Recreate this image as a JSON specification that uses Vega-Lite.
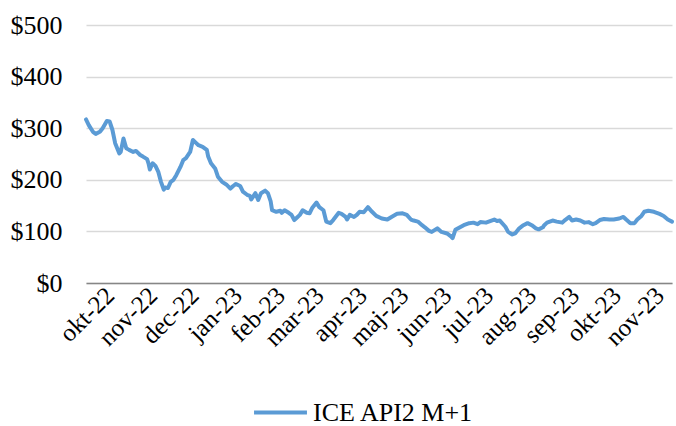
{
  "$schema": "https://vega.github.io/schema/vega-lite/v6.json",
  "autosize": "none",
  "width": 586,
  "height": 258,
  "padding": {"left": 86, "top": 25, "right": 4, "bottom": 143},
  "background": "white",
  "config": {
    "view": {"stroke": null},
    "font": "Liberation Serif"
  },
  "data": {
    "values": [
      {"d":"2022-09-14","v":317},{"d":"2022-09-16","v":306},{"d":"2022-09-19","v":293},{"d":"2022-09-21","v":289},
      {"d":"2022-09-24","v":293},{"d":"2022-09-26","v":300},{"d":"2022-09-29","v":314},{"d":"2022-10-01","v":313},
      {"d":"2022-10-03","v":297},{"d":"2022-10-05","v":271},{"d":"2022-10-08","v":251},{"d":"2022-10-09","v":254},
      {"d":"2022-10-11","v":280},{"d":"2022-10-13","v":261},{"d":"2022-10-15","v":258},{"d":"2022-10-18","v":254},
      {"d":"2022-10-20","v":256},{"d":"2022-10-23","v":248},{"d":"2022-10-25","v":245},{"d":"2022-10-28","v":240},
      {"d":"2022-10-29","v":232},{"d":"2022-10-30","v":220},{"d":"2022-11-01","v":232},{"d":"2022-11-03","v":227},
      {"d":"2022-11-05","v":216},{"d":"2022-11-07","v":196},{"d":"2022-11-09","v":181},{"d":"2022-11-10","v":185},
      {"d":"2022-11-12","v":184},{"d":"2022-11-14","v":196},{"d":"2022-11-16","v":200},{"d":"2022-11-18","v":209},
      {"d":"2022-11-21","v":225},{"d":"2022-11-23","v":238},{"d":"2022-11-25","v":242},{"d":"2022-11-28","v":254},
      {"d":"2022-11-30","v":277},{"d":"2022-12-02","v":272},{"d":"2022-12-04","v":267},{"d":"2022-12-07","v":264},
      {"d":"2022-12-10","v":258},{"d":"2022-12-11","v":245},{"d":"2022-12-13","v":232},{"d":"2022-12-16","v":222},
      {"d":"2022-12-18","v":206},{"d":"2022-12-21","v":196},{"d":"2022-12-24","v":191},{"d":"2022-12-27","v":183},
      {"d":"2022-12-29","v":188},{"d":"2022-12-31","v":192},{"d":"2023-01-03","v":188},{"d":"2023-01-05","v":177},
      {"d":"2023-01-08","v":171},{"d":"2023-01-10","v":169},{"d":"2023-01-11","v":162},{"d":"2023-01-14","v":174},
      {"d":"2023-01-16","v":161},{"d":"2023-01-18","v":174},{"d":"2023-01-21","v":179},{"d":"2023-01-23","v":174},
      {"d":"2023-01-25","v":158},{"d":"2023-01-26","v":141},{"d":"2023-01-29","v":138},{"d":"2023-02-01","v":140},
      {"d":"2023-02-02","v":136},{"d":"2023-02-04","v":141},{"d":"2023-02-07","v":136},{"d":"2023-02-09","v":132},
      {"d":"2023-02-11","v":122},{"d":"2023-02-13","v":127},{"d":"2023-02-15","v":132},{"d":"2023-02-17","v":141},
      {"d":"2023-02-20","v":136},{"d":"2023-02-22","v":135},{"d":"2023-02-24","v":146},{"d":"2023-02-27","v":156},
      {"d":"2023-03-01","v":147},{"d":"2023-03-04","v":141},{"d":"2023-03-06","v":119},{"d":"2023-03-09","v":116},
      {"d":"2023-03-11","v":122},{"d":"2023-03-15","v":136},{"d":"2023-03-17","v":134},{"d":"2023-03-20","v":128},
      {"d":"2023-03-21","v":123},{"d":"2023-03-23","v":132},{"d":"2023-03-26","v":128},{"d":"2023-03-28","v":132},
      {"d":"2023-03-30","v":138},{"d":"2023-04-02","v":137},{"d":"2023-04-05","v":147},{"d":"2023-04-08","v":138},
      {"d":"2023-04-11","v":130},{"d":"2023-04-15","v":125},{"d":"2023-04-19","v":123},{"d":"2023-04-22","v":128},
      {"d":"2023-04-26","v":134},{"d":"2023-04-30","v":135},{"d":"2023-05-03","v":132},{"d":"2023-05-06","v":123},
      {"d":"2023-05-08","v":121},{"d":"2023-05-11","v":119},{"d":"2023-05-14","v":112},{"d":"2023-05-16","v":108},
      {"d":"2023-05-19","v":101},{"d":"2023-05-21","v":99},{"d":"2023-05-25","v":106},{"d":"2023-05-28","v":99},
      {"d":"2023-06-01","v":96},{"d":"2023-06-04","v":90},{"d":"2023-06-05","v":87},{"d":"2023-06-07","v":103},
      {"d":"2023-06-09","v":106},{"d":"2023-06-13","v":112},{"d":"2023-06-17","v":116},{"d":"2023-06-20","v":117},
      {"d":"2023-06-23","v":114},{"d":"2023-06-25","v":118},{"d":"2023-06-29","v":117},{"d":"2023-07-02","v":120},
      {"d":"2023-07-05","v":123},{"d":"2023-07-07","v":120},{"d":"2023-07-09","v":121},{"d":"2023-07-13","v":109},
      {"d":"2023-07-15","v":99},{"d":"2023-07-18","v":94},{"d":"2023-07-20","v":96},{"d":"2023-07-23","v":106},
      {"d":"2023-07-26","v":112},{"d":"2023-07-29","v":116},{"d":"2023-08-01","v":112},{"d":"2023-08-04","v":106},
      {"d":"2023-08-06","v":104},{"d":"2023-08-09","v":108},{"d":"2023-08-10","v":112},{"d":"2023-08-12","v":117},
      {"d":"2023-08-16","v":121},{"d":"2023-08-19","v":119},{"d":"2023-08-23","v":117},{"d":"2023-08-25","v":122},
      {"d":"2023-08-28","v":128},{"d":"2023-08-30","v":121},{"d":"2023-09-02","v":123},{"d":"2023-09-05","v":121},
      {"d":"2023-09-08","v":117},{"d":"2023-09-11","v":118},{"d":"2023-09-14","v":114},{"d":"2023-09-16","v":116},
      {"d":"2023-09-19","v":122},{"d":"2023-09-22","v":124},{"d":"2023-09-26","v":123},{"d":"2023-09-29","v":123},
      {"d":"2023-10-03","v":125},{"d":"2023-10-06","v":128},{"d":"2023-10-08","v":123},{"d":"2023-10-11","v":116},
      {"d":"2023-10-14","v":116},{"d":"2023-10-16","v":123},{"d":"2023-10-19","v":130},{"d":"2023-10-21","v":138},
      {"d":"2023-10-24","v":140},{"d":"2023-10-28","v":138},{"d":"2023-11-01","v":134},{"d":"2023-11-04","v":130},
      {"d":"2023-11-07","v":123},{"d":"2023-11-10","v":119}
    ]
  },
  "mark": {"type": "line", "strokeWidth": 4, "strokeCap": "round", "strokeJoin": "round"},
  "encoding": {
    "x": {
      "field": "d",
      "type": "temporal",
      "scale": {
        "type": "utc",
        "domain": [
          {"year": 2022, "month": 9, "date": 14, "utc": true},
          {"year": 2023, "month": 11, "date": 10, "utc": true}
        ],
        "nice": false
      },
      "axis": {
        "title": null,
        "tickCount": {"interval": "month", "step": 1},
        "labelExpr": "['jan','feb','mar','apr','maj','jun','jul','aug','sep','okt','nov','dec'][utcmonth(datum.value)] + '-' + utcFormat(datum.value, '%y')",
        "labelAngle": -45,
        "labelAlign": "right",
        "labelBaseline": "middle",
        "labelFont": "Liberation Serif",
        "labelFontSize": 25,
        "labelColor": "#000000",
        "labelPadding": 8,
        "labelOverlap": false,
        "labelFlush": false,
        "ticks": false,
        "grid": false,
        "domain": true,
        "domainColor": "#868686",
        "domainWidth": 1.5
      }
    },
    "y": {
      "field": "v",
      "type": "quantitative",
      "scale": {"domain": [0, 500], "nice": false},
      "axis": {
        "title": null,
        "values": [0, 100, 200, 300, 400, 500],
        "labelExpr": "'$' + datum.value",
        "labelFont": "Liberation Serif",
        "labelFontSize": 26,
        "labelColor": "#000000",
        "labelPadding": 24,
        "ticks": false,
        "domain": false,
        "grid": true,
        "gridColor": "#D9D9D9",
        "gridWidth": 1.5
      }
    },
    "color": {
      "datum": "ICE API2 M+1",
      "type": "nominal",
      "scale": {"range": ["#5B9BD5"]},
      "legend": {
        "title": null,
        "orient": "none",
        "legendX": 166,
        "legendY": 359,
        "padding": 0,
        "symbolType": "stroke",
        "symbolSize": 2800,
        "symbolStrokeWidth": 4,
        "labelFont": "Liberation Serif",
        "labelFontSize": 26,
        "labelLimit": 400,
        "labelColor": "#000000",
        "labelOffset": 4
      }
    }
  }
}
